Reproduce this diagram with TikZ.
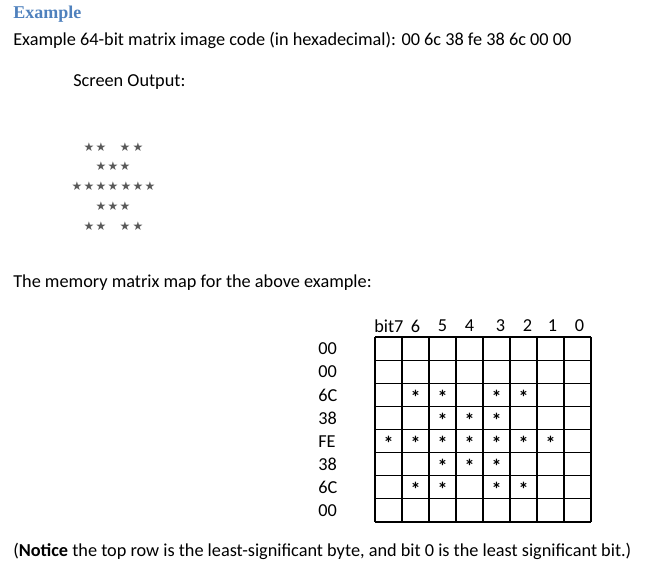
\documentclass[tikz,border=0pt]{standalone}
\usepackage{fontspec}
\setmainfont{Carlito}
\newfontfamily\titlefont{Liberation Serif}
\newfontfamily\symfont{DejaVu Sans}
\definecolor{wordblue}{RGB}{79,129,189}
\begin{document}
\begin{tikzpicture}[x=0.75pt,y=-0.75pt,
  txt/.style={anchor=west,inner sep=0pt,font=\fontsize{13.7}{15}\selectfont},
  st/.style={inner sep=0pt,text=black!65,font=\symfont\fontsize{9}{10}\selectfont},
  cs/.style={inner sep=0pt,font=\bfseries\fontsize{15}{16}\selectfont}]
\useasboundingbox (0,0) rectangle (662,582);
\node[txt,font=\titlefont\bfseries\fontsize{13.5}{15}\selectfont,text=wordblue] (t) at (13,14) {Example};
\node[txt] (l1) at (13,40) {Example 64-bit matrix image code (in hexadecimal): 00 6c 38 fe 38 6c 00 00};
\node[txt] (l2) at (73,82) {Screen Output:};
\foreach \y/\xs in {147/{89,101,125,138},166/{101,113,125},186/{77,89,101,113,126,138,150},206/{101,113,125},226/{89,101,125,138}}
  \foreach \x in \xs \node[st] at (\x,\y) {★};
\node[txt] (l3) at (13,283) {The memory matrix map for the above example:};
\foreach \i in {0,...,8} {
  \draw[line width=0.8pt] ({375+27*\i},337) -- ({375+27*\i},522);
  \draw[line width=0.8pt] (375,{337+23.125*\i}) -- (591,{337+23.125*\i});
}
\node[txt] (b7) at (374,326) {bit7};
\foreach \n [count=\k from 1] in {6,5,4,3,2,1,0}
  \node[inner sep=0pt,font=\fontsize{13.7}{15}\selectfont] at ({388.5+27*\k+(\k>3?4:0)-(\k>5?2:0)},326) {\n};
\foreach \v [count=\r from 0] in {00,00,6C,38,FE,38,6C,00}
  \node[txt] at (318,{349+23.125*\r}) {\v};
\foreach \r/\cs in {2/{1,2,4,5},3/{2,3,4},4/{0,1,2,3,4,5,6},5/{2,3,4},6/{1,2,4,5}}
  \foreach \c in \cs \node[cs] at ({388.5+27*\c},{351+23.125*\r}) {*};
\node[txt] (l4) at (13,551) {(\textbf{Notice} the top row is the least-significant byte, and bit 0 is the least significant bit.)};
\end{tikzpicture}
\end{document}
